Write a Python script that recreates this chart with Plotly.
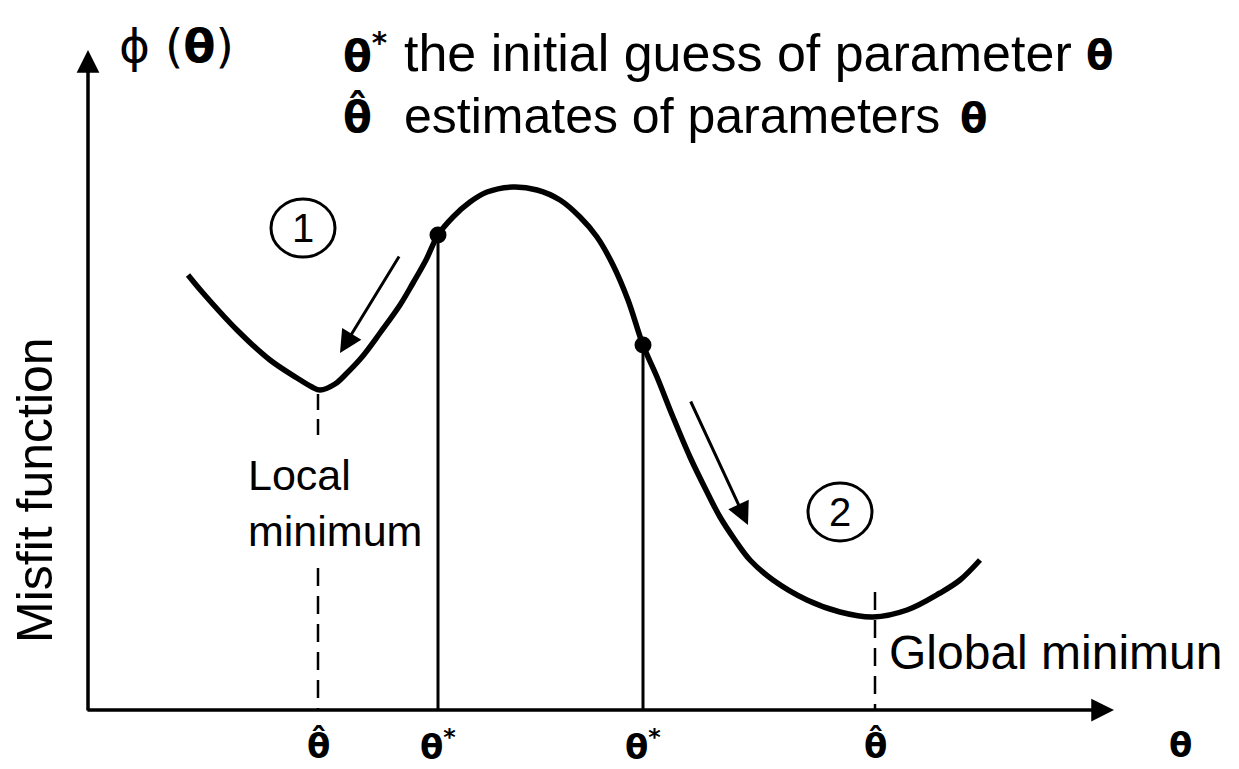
import plotly.graph_objects as go

# Curve of the misfit function (theta, phi)
theta = [188, 203, 237, 270, 297, 312, 320, 335, 347, 362, 380, 400, 413, 426, 438, 453, 470, 487, 513, 537, 560, 580,
         597, 613, 628, 643, 657, 673, 690, 707, 720, 735, 750, 773, 807, 840, 873, 907, 940, 960, 980]
phi = [435, 417, 380, 350, 332, 323, 320, 326, 337, 353, 377, 405, 427, 450, 475, 493, 508, 518, 523, 520, 510, 493,
       473, 445, 410, 365, 333, 293, 253, 218, 193, 170, 150, 130, 110, 98, 93, 100, 117, 130, 150]

# initial guesses (dots + solid drop lines)
guess_theta = [438, 643]
guess_phi = [475, 365]
# estimates (minima, dashed drop lines)
est_theta = [318, 875]
est_phi = [320, 93]

tick_theta = [318, 438, 643, 875, 1180]
tick_labels = ["<b>θ̂</b>", "<b>θ</b><sup><b>*</b></sup>", "<b>θ</b><sup><b>*</b></sup>", "<b>θ̂</b>", "<b>θ</b>"]

FONT = "Liberation Sans, Arial, sans-serif"
SYM = "DejaVu Sans, sans-serif"

fig = go.Figure()

# drop lines
for t, p in zip(guess_theta, guess_phi):
    fig.add_trace(go.Scatter(x=[t, t], y=[0, p], mode="lines",
                             line=dict(color="black", width=3), hoverinfo="skip"))
# local minimum dashed line (interrupted by label)
fig.add_trace(go.Scatter(x=[est_theta[0], est_theta[0]], y=[est_phi[0] - 4, 272], mode="lines",
                         line=dict(color="black", width=2.5, dash="16px,9px"), hoverinfo="skip"))
fig.add_trace(go.Scatter(x=[est_theta[0], est_theta[0]], y=[142, 0], mode="lines",
                         line=dict(color="black", width=2.5, dash="18px,10px"), hoverinfo="skip"))
# global minimum dashed line
fig.add_trace(go.Scatter(x=[est_theta[1], est_theta[1]], y=[118, 0], mode="lines",
                         line=dict(color="black", width=2.5, dash="18px,10px"), hoverinfo="skip"))

# main curve
fig.add_trace(go.Scatter(x=theta, y=phi, mode="lines",
                         line=dict(color="black", width=5.5, shape="spline", smoothing=1.0),
                         hoverinfo="skip"))
# dots
fig.add_trace(go.Scatter(x=guess_theta, y=guess_phi, mode="markers",
                         marker=dict(color="black", size=17), hoverinfo="skip"))

ann = []
# axes arrows
ann.append(dict(x=88, y=660, ax=88, ay=-2, xref="x", yref="y", axref="x", ayref="y",
                showarrow=True, arrowhead=2, arrowsize=1.3, arrowwidth=3.5, arrowcolor="black", text=""))
ann.append(dict(x=1114, y=0, ax=86, ay=0, xref="x", yref="y", axref="x", ayref="y",
                showarrow=True, arrowhead=2, arrowsize=1.3, arrowwidth=3.5, arrowcolor="black", text=""))
# direction arrows
ann.append(dict(x=340, y=357, ax=400, ay=455, xref="x", yref="y", axref="x", ayref="y",
                showarrow=True, arrowhead=2, arrowsize=1.5, arrowwidth=3, arrowcolor="black", text=""))
ann.append(dict(x=748, y=185, ax=690, ay=310, xref="x", yref="y", axref="x", ayref="y",
                showarrow=True, arrowhead=2, arrowsize=1.5, arrowwidth=3, arrowcolor="black", text=""))

# tick labels under the axis
for t, lab in zip(tick_theta, tick_labels):
    ann.append(dict(x=t, y=-35, xref="x", yref="y", text=lab, showarrow=False,
                    font=dict(family=SYM, size=34, color="black"), xanchor="center", yanchor="middle"))

# header texts
ann.append(dict(x=117, y=665, xref="x", yref="y", text="ϕ (<b>θ</b>)", showarrow=False,
                font=dict(family=SYM, size=47, color="black"), xanchor="left", yanchor="middle"))
ann.append(dict(x=341, y=657, xref="x", yref="y", text="<b>θ</b><sup><b>*</b></sup>", showarrow=False,
                font=dict(family=SYM, size=42, color="black"), xanchor="left", yanchor="middle"))
ann.append(dict(x=402, y=657, xref="x", yref="y", text="the initial guess of parameter", showarrow=False,
                font=dict(family=FONT, size=52, color="black"), xanchor="left", yanchor="middle"))
ann.append(dict(x=1084, y=655, xref="x", yref="y", text="<b>θ</b>", showarrow=False,
                font=dict(family=SYM, size=40, color="black"), xanchor="left", yanchor="middle"))
ann.append(dict(x=341, y=594, xref="x", yref="y", text="<b>θ̂</b>", showarrow=False,
                font=dict(family=SYM, size=42, color="black"), xanchor="left", yanchor="middle"))
ann.append(dict(x=402, y=594, xref="x", yref="y", text="estimates of parameters", showarrow=False,
                font=dict(family=FONT, size=50, color="black"), xanchor="left", yanchor="middle"))
ann.append(dict(x=958, y=592, xref="x", yref="y", text="<b>θ</b>", showarrow=False,
                font=dict(family=SYM, size=40, color="black"), xanchor="left", yanchor="middle"))

ann.append(dict(x=246, y=207, xref="x", yref="y", text="Local<br>minimum", showarrow=False, align="left",
                font=dict(family=FONT, size=43, color="black"), xanchor="left", yanchor="middle"))
ann.append(dict(x=887, y=58, xref="x", yref="y", text="Global minimun", showarrow=False,
                font=dict(family=FONT, size=48, color="black"), xanchor="left", yanchor="middle"))
ann.append(dict(x=35, y=220, xref="x", yref="y", text="Misfit function", showarrow=False, textangle=-90,
                font=dict(family=FONT, size=50, color="black"), xanchor="center", yanchor="middle"))
# circled numbers
for cx, cy, num in [(303, 482, "1"), (840, 198, "2")]:
    ann.append(dict(x=cx, y=cy, xref="x", yref="y", text=num, showarrow=False,
                    font=dict(family=FONT, size=40, color="black"), xanchor="center", yanchor="middle"))

shapes = []
for cx, cy in [(303, 482), (840, 198)]:
    shapes.append(dict(type="circle", xref="x", yref="y", x0=cx - 32, x1=cx + 32, y0=cy - 29, y1=cy + 29,
                       line=dict(color="black", width=3)))

fig.update_layout(
    width=1239, height=769, margin=dict(l=0, r=0, t=0, b=0),
    paper_bgcolor="white", plot_bgcolor="white", showlegend=False,
    xaxis=dict(range=[0, 1239], visible=False, fixedrange=True),
    yaxis=dict(range=[-59, 710], visible=False, fixedrange=True),
    annotations=ann, shapes=shapes,
)

fig.write_html("out.html", post_script="document.body.style.margin='0';", config={"displayModeBar": False})
